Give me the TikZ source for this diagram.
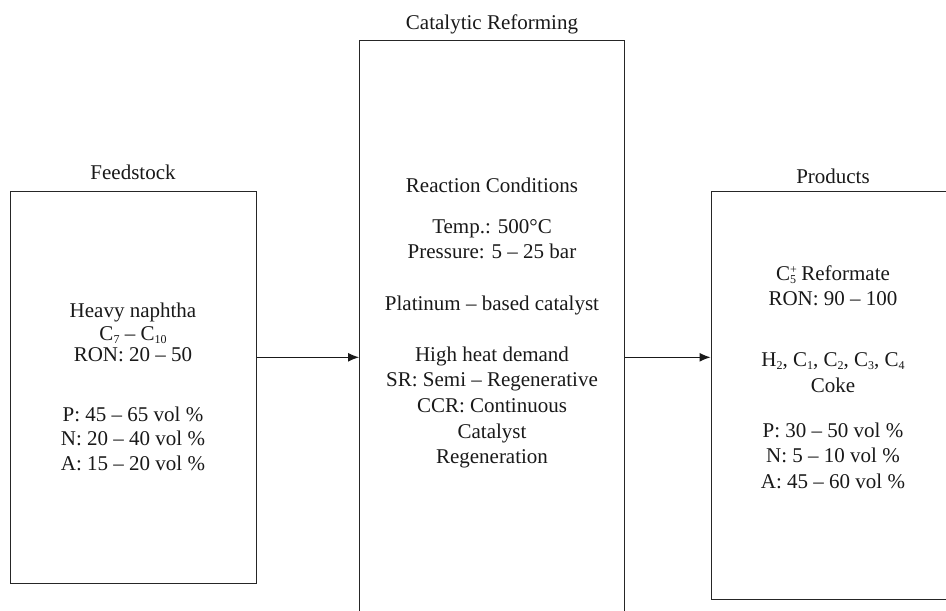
\documentclass[tikz,border=0pt]{standalone}
\usepackage{fontspec}
\setmainfont{Liberation Serif}
\usetikzlibrary{arrows.meta}
\newcommand\lowsub[1]{\raisebox{-3pt}{\fontsize{12}{12}\selectfont #1}}
\newcommand\cfive{C\rlap{\raisebox{6.5pt}{\fontsize{12}{12}\selectfont +}}\lowsub{5}}
\tikzset{
  box/.style={draw=black!85, line width=1pt, rectangle, inner sep=0pt},
  txt/.style={anchor=base, inner sep=0pt, font=\fontsize{21}{25}\selectfont, text=black!90},
  flow/.style={draw=black!90, line width=1pt, -{Latex[length=11pt,width=9pt]}}
}
\begin{document}
\begin{tikzpicture}[x=1pt,y=-1pt]
\clip (0,0) rectangle (946,611);
\fill[white] (0,0) rectangle (946,611);
% boxes
\node[box, minimum width=245.5pt, minimum height=392pt] (feed) at (133.25,387.5) {};
\node[box, minimum width=265pt, minimum height=600pt] (cat) at (492,340) {};
\node[box, minimum width=244pt, minimum height=408pt] (prod) at (833,395) {};
% titles
\node[txt] (tfeed) at (133,179) {Feedstock};
\node[txt] (tcat) at (492,29) {Catalytic Reforming};
\node[txt] (tprod) at (833,183) {Products};
% feedstock content
\node[txt] (f1) at (133,317) {Heavy naphtha};
\node[txt] (f2) at (133,340) {C\lowsub{7} -- C\lowsub{10}};
\node[txt] (f3) at (133,361) {RON: 20 -- 50};
\node[txt] (f4) at (133,421.5) {P: 45 -- 65 vol \%};
\node[txt] (f5) at (133,445.5) {N: 20 -- 40 vol \%};
\node[txt] (f6) at (133,470) {A: 15 -- 20 vol \%};
% reforming content
\node[txt] (c1) at (492,192) {Reaction Conditions};
\node[txt] (c2) at (492,233) {Temp.: 500°C};
\node[txt] (c3) at (492,258) {Pressure: 5 -- 25 bar};
\node[txt] (c4) at (492,310) {Platinum -- based catalyst};
\node[txt] (c5) at (492,361) {High heat demand};
\node[txt] (c6) at (492,386) {SR: Semi -- Regenerative};
\node[txt] (c7) at (492,412) {CCR: Continuous};
\node[txt] (c8) at (492,438) {Catalyst};
\node[txt] (c9) at (492,463) {Regeneration};
% products content
\node[txt] (p1) at (833,280) {\cfive{} Reformate};
\node[txt] (p2) at (833,305) {RON: 90 -- 100};
\node[txt] (p3) at (833,366) {H\lowsub{2}, C\lowsub{1}, C\lowsub{2}, C\lowsub{3}, C\lowsub{4}};
\node[txt] (p4) at (833,392) {Coke};
\node[txt] (p5) at (833,437.5) {P: 30 -- 50 vol \%};
\node[txt] (p6) at (833,462.5) {N: 5 -- 10 vol \%};
\node[txt] (p7) at (833,488) {A: 45 -- 60 vol \%};
% arrows
\coordinate (ay) at (0,357.3);
\draw[flow] (feed.east |- ay) -- (cat.west |- ay);
\draw[flow] (cat.east |- ay) -- (prod.west |- ay);
\end{tikzpicture}
\end{document}
